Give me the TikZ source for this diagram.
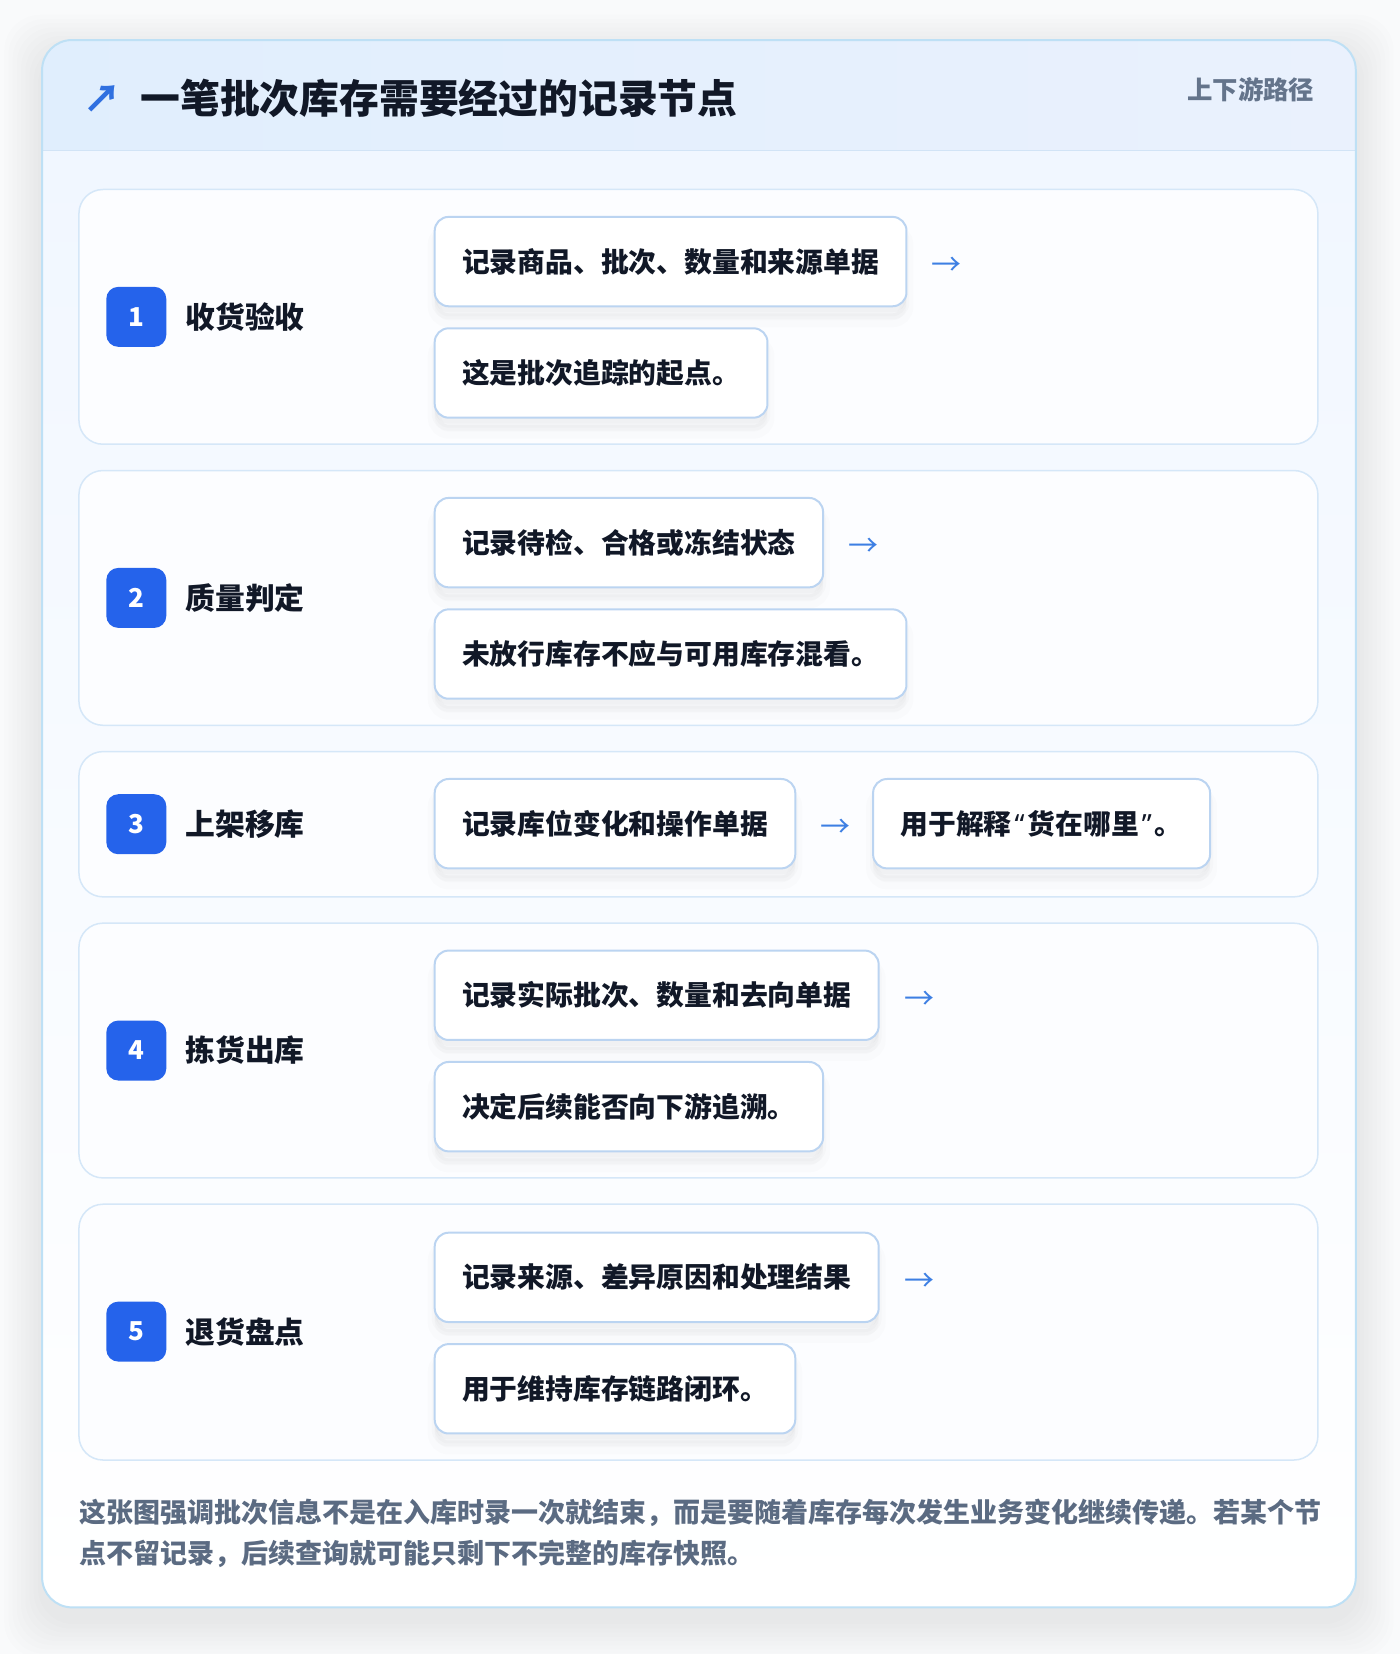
\documentclass[tikz,border=0pt]{standalone}
\usepackage{fontspec}
\setmainfont{Noto Sans CJK SC}
\newfontfamily\quotefont{Noto Sans}
\usepackage{tikz}
\usetikzlibrary{positioning}
\definecolor{pagebg}{HTML}{F9FAFB}
\definecolor{cardline}{HTML}{BEE0F5}
\definecolor{headl}{HTML}{E0EEFD}
\definecolor{headr}{HTML}{EAF1FD}
\definecolor{headrule}{HTML}{D2E4F6}
\definecolor{bodytop}{HTML}{F1F7FF}
\definecolor{rowfill}{HTML}{FCFDFF}
\definecolor{rowline}{HTML}{D5E7F8}
\definecolor{recline}{HTML}{BBD4F1}
\definecolor{inkdark}{HTML}{111827}
\definecolor{badgeblue}{HTML}{2563EB}
\definecolor{arrowblue}{HTML}{3D7FE3}
\definecolor{iconblue}{HTML}{3070E0}
\definecolor{labelgray}{HTML}{64748B}
\definecolor{notegray}{HTML}{5B6B82}
\newcommand{\recfont}{\fontsize{13.9pt}{16pt}\selectfont\bfseries}
\newcommand{\stepfont}{\fontsize{14.9pt}{17pt}\selectfont\bfseries}
\newcommand{\qmark}[1]{\kern1.5pt{\quotefont\bfseries #1}\kern1.5pt}
\tikzset{
  softshadow/.style={
    preaction={draw=black, line width=7pt, draw opacity=0.012, fill=black, fill opacity=0.012,
      transform canvas={yshift=-7pt}},
    preaction={draw=black, line width=3pt, draw opacity=0.016, fill=black, fill opacity=0.016,
      transform canvas={yshift=-5pt}},
    preaction={fill=black, fill opacity=0.02, transform canvas={yshift=-3pt}}},
  recbox/.style={softshadow, draw=recline, line width=1pt, fill=white, rounded corners=7pt,
    minimum height=44.7pt, inner xsep=13.7pt, inner ysep=0pt, anchor=west,
    text=inkdark, font=\recfont},
  badge/.style={fill=badgeblue, rounded corners=6pt, minimum size=30pt, inner sep=0pt,
    text=white, font=\fontsize{13pt}{14pt}\selectfont\bfseries},
  steplabel/.style={anchor=west, inner sep=0pt, text=inkdark, font=\stepfont},
  flowarrow/.style={inner sep=0pt, text=arrowblue, font=\fontsize{15pt}{17pt}\selectfont, yshift=-2.5pt},
  rowpanel/.style={draw=rowline, line width=0.75pt, fill=rowfill, rounded corners=12pt},
}
\newcommand{\recnode}{\node[recbox]}
\newcommand{\badgenode}{\node[badge]}
\newcommand{\arrnode}{\node[flowarrow]}

\begin{document}
\begin{tikzpicture}[x=0.5263pt, y=-0.5263pt]
  \useasboundingbox[fill=pagebg] (0,0) rectangle (1330,1571.3);
  % soft shadow of the card
  \foreach \s in {4,8,...,36}
    \fill[black, fill opacity=0.006, rounded corners=18pt] ({40-\s}, {38-\s+12}) rectangle ({1288+\s}, {1527+\s+12});
  % outer card
  \fill[white, rounded corners=15pt] (40,38) rectangle (1288,1527);
  \begin{scope}
    \clip[rounded corners=15pt] (40,38) rectangle (1288,1527);
    \shade[top color=bodytop, bottom color=white] (40,143) rectangle (1288,1527);
    \shade[left color=headl, right color=headr] (40,38) rectangle (1288,143);
    \draw[headrule, line width=0.75pt] (40,143) -- (1288,143);
  \end{scope}
  \draw[cardline, line width=1pt, rounded corners=15pt] (40,38) rectangle (1288,1527);
  % header
  \node[text=iconblue, inner sep=0pt, font=\fontsize{19pt}{21pt}\selectfont\bfseries] (icon) at (97,94) {↗};
  \node[anchor=west, inner sep=0pt, text=inkdark, font=\fontsize{19.9pt}{22pt}\selectfont\bfseries] (title) at (133,93) {一笔批次库存需要经过的记录节点};
  \node[anchor=east, inner sep=0pt, text=labelgray, font=\fontsize{12.7pt}{15pt}\selectfont\bfseries] (route) at (1249,85) {上下游路径};
  % row panels
  \foreach \top/\bot in {180/422, 447/689, 714/852, 877/1119, 1144/1387}
    \draw[rowpanel] (75,\top) rectangle (1252,\bot);
  % badges and step names
  \foreach \n/\y/\name in {1/301/收货验收, 2/568/质量判定, 3/783/上架移库, 4/998/拣货出库, 5/1265/退货盘点} {
    \badgenode (b\n) at (129.5,\y) {\n};
    \node[steplabel, right=9.2pt of b\n] (s\n) {\name};
  }
  % step 1
  \recnode (r1a) at (412,248.5) {记录商品、批次、数量和来源单据};
  \recnode (r1b) [below=10pt of r1a.south west, anchor=north west] {这是批次追踪的起点。};
  \arrnode[right=12pt of r1a] (a1) {→};
  % step 2
  \recnode (r2a) at (412,515.5) {记录待检、合格或冻结状态};
  \recnode (r2b) [below=10pt of r2a.south west, anchor=north west] {未放行库存不应与可用库存混看。};
  \arrnode[right=12pt of r2a] (a2) {→};
  % step 3
  \recnode (r3a) at (412,782.5) {记录库位变化和操作单据};
  \arrnode[right=12pt of r3a] (a3) {→};
  \recnode (r3b) [right=10.5pt of a3, yshift=2.5pt] {用于解释\qmark{“}货在哪里\qmark{”}。};
  % step 4
  \recnode (r4a) at (412,945.5) {记录实际批次、数量和去向单据};
  \recnode (r4b) [below=10pt of r4a.south west, anchor=north west] {决定后续能否向下游追溯。};
  \arrnode[right=12pt of r4a] (a4) {→};
  % step 5
  \recnode (r5a) at (412,1213.5) {记录来源、差异原因和处理结果};
  \recnode (r5b) [below=10pt of r5a.south west, anchor=north west] {用于维持库存链路闭环。};
  \arrnode[right=12pt of r5a] (a5) {→};
  % note
  \node[anchor=west, inner sep=0pt, align=left, text=notegray,
    font=\fontsize{13.5pt}{20.5pt}\selectfont\bfseries] (note) at (75,1456.5)
    {这张图强调批次信息不是在入库时录一次就结束，而是要随着库存每次发生业务变化继续传递。若某个节\\
     点不留记录，后续查询就可能只剩下不完整的库存快照。};
\end{tikzpicture}
\end{document}
